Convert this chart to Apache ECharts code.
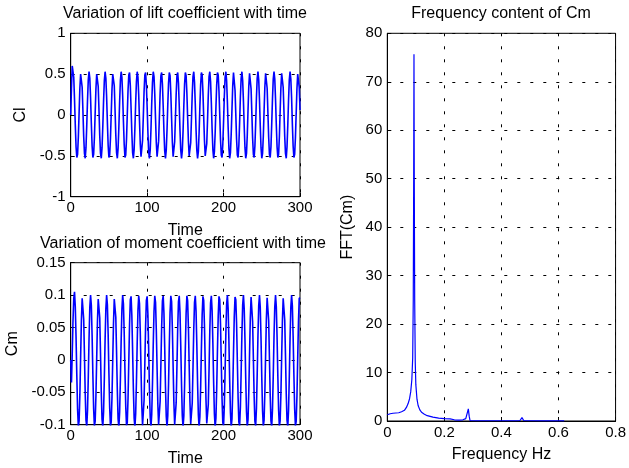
<!DOCTYPE html>
<html>
<head>
<meta charset="utf-8">
<title>Cl, Cm and FFT(Cm)</title>
<script src="https://cdn.jsdelivr.net/npm/echarts@6/dist/echarts.min.js"></script>
<style>
  html, body { margin: 0; padding: 0; background: #fff; }
  #chart { width: 629px; height: 468px; }
</style>
</head>
<body>
<div id="chart"></div>
<script>
// Sampling step of the time histories (time units)
const SAMPLE_STEP = 1;

// Lift coefficient history, one value per time step, t = 0 .. 300
const clValues = [
  0.00, 0.33, 0.60, 0.62, 0.46, 0.19, -0.12, -0.39, -0.52, -0.48,
  -0.27, 0.03, 0.33, 0.50, 0.51, 0.34, 0.05, -0.26, -0.47, -0.53,
  -0.40, -0.13, 0.18, 0.43, 0.53, 0.45, 0.21, -0.10, -0.38, -0.52,
  -0.48, -0.28, 0.02, 0.32, 0.50, 0.51, 0.35, 0.06, -0.25, -0.47,
  -0.53, -0.40, -0.14, 0.17, 0.42, 0.53, 0.45, 0.22, -0.09, -0.37,
  -0.52, -0.49, -0.29, 0.01, 0.31, 0.50, 0.52, 0.36, 0.07, -0.24,
  -0.46, -0.53, -0.41, -0.15, 0.16, 0.42, 0.53, 0.46, 0.23, -0.08,
  -0.36, -0.52, -0.49, -0.30, 0.00, 0.30, 0.49, 0.52, 0.36, 0.08,
  -0.22, -0.46, -0.53, -0.42, -0.16, 0.15, 0.41, 0.53, 0.46, 0.24,
  -0.07, -0.35, -0.51, -0.50, -0.31, -0.02, 0.29, 0.49, 0.52, 0.37,
  0.10, -0.21, -0.45, -0.53, -0.43, -0.18, 0.14, 0.40, 0.53, 0.47,
  0.25, -0.05, -0.34, -0.51, -0.50, -0.32, -0.03, 0.27, 0.48, 0.52,
  0.38, 0.11, -0.20, -0.44, -0.53, -0.43, -0.19, 0.12, 0.39, 0.52,
  0.48, 0.26, -0.04, -0.33, -0.51, -0.51, -0.33, -0.04, 0.26, 0.48,
  0.52, 0.39, 0.12, -0.19, -0.43, -0.53, -0.44, -0.20, 0.11, 0.38,
  0.52, 0.48, 0.27, -0.03, -0.32, -0.50, -0.51, -0.34, -0.05, 0.25,
  0.47, 0.53, 0.40, 0.13, -0.18, -0.43, -0.53, -0.45, -0.21, 0.10,
  0.37, 0.52, 0.49, 0.28, -0.02, -0.31, -0.50, -0.51, -0.35, -0.07,
  0.24, 0.47, 0.53, 0.41, 0.15, -0.17, -0.42, -0.53, -0.45, -0.22,
  0.09, 0.37, 0.52, 0.49, 0.29, 0.00, -0.30, -0.49, -0.52, -0.36,
  -0.08, 0.23, 0.46, 0.53, 0.42, 0.16, -0.15, -0.41, -0.53, -0.46,
  -0.23, 0.07, 0.36, 0.52, 0.50, 0.30, 0.01, -0.29, -0.49, -0.52,
  -0.37, -0.09, 0.22, 0.45, 0.53, 0.42, 0.17, -0.14, -0.40, -0.53,
  -0.47, -0.25, 0.06, 0.35, 0.51, 0.50, 0.32, 0.02, -0.28, -0.48,
  -0.52, -0.38, -0.10, 0.21, 0.45, 0.53, 0.43, 0.18, -0.13, -0.40,
  -0.53, -0.47, -0.26, 0.05, 0.34, 0.51, 0.50, 0.33, 0.03, -0.27,
  -0.48, -0.52, -0.39, -0.11, 0.20, 0.44, 0.53, 0.44, 0.19, -0.12,
  -0.39, -0.52, -0.48, -0.27, 0.04, 0.33, 0.51, 0.51, 0.34, 0.05,
  -0.26, -0.47, -0.53, -0.39, -0.13, 0.18, 0.43, 0.53, 0.44, 0.21,
  -0.11, -0.38, -0.52, -0.48, -0.28, 0.02, 0.32, 0.50, 0.51, 0.34,
  0.06
];

// Moment coefficient history, one value per time step, t = 0 .. 300
const cmValues = [
  0.000, -0.035, 0.010, 0.060, 0.095, 0.105, 0.082, 0.035, -0.024, -0.076,
  -0.103, -0.094, -0.054, 0.005, 0.061, 0.095, 0.096, 0.063, 0.007, -0.052,
  -0.093, -0.103, -0.078, -0.027, 0.033, 0.081, 0.100, 0.084, 0.038, -0.022,
  -0.075, -0.102, -0.095, -0.056, 0.002, 0.059, 0.094, 0.097, 0.065, 0.010,
  -0.049, -0.092, -0.103, -0.080, -0.029, 0.031, 0.079, 0.100, 0.085, 0.040,
  -0.020, -0.073, -0.102, -0.096, -0.058, 0.000, 0.057, 0.094, 0.097, 0.066,
  0.012, -0.047, -0.091, -0.104, -0.081, -0.031, 0.029, 0.078, 0.100, 0.086,
  0.042, -0.017, -0.071, -0.101, -0.097, -0.060, -0.003, 0.055, 0.093, 0.098,
  0.068, 0.014, -0.045, -0.090, -0.104, -0.083, -0.034, 0.026, 0.077, 0.099,
  0.087, 0.044, -0.015, -0.070, -0.101, -0.098, -0.062, -0.005, 0.053, 0.092,
  0.098, 0.070, 0.017, -0.043, -0.088, -0.104, -0.084, -0.036, 0.024, 0.075,
  0.099, 0.089, 0.046, -0.012, -0.068, -0.100, -0.099, -0.064, -0.007, 0.051,
  0.091, 0.099, 0.072, 0.019, -0.041, -0.087, -0.104, -0.086, -0.038, 0.022,
  0.073, 0.099, 0.090, 0.049, -0.010, -0.066, -0.100, -0.099, -0.066, -0.010,
  0.049, 0.090, 0.099, 0.073, 0.021, -0.038, -0.086, -0.104, -0.087, -0.040,
  0.019, 0.072, 0.099, 0.091, 0.051, -0.008, -0.064, -0.099, -0.100, -0.067,
  -0.012, 0.047, 0.089, 0.099, 0.075, 0.024, -0.036, -0.084, -0.104, -0.088,
  -0.043, 0.017, 0.070, 0.098, 0.092, 0.053, -0.005, -0.062, -0.098, -0.101,
  -0.069, -0.015, 0.045, 0.088, 0.099, 0.076, 0.026, -0.034, -0.083, -0.104,
  -0.090, -0.045, 0.015, 0.068, 0.098, 0.093, 0.055, -0.003, -0.060, -0.097,
  -0.101, -0.071, -0.017, 0.042, 0.086, 0.100, 0.078, 0.028, -0.032, -0.081,
  -0.104, -0.091, -0.047, 0.012, 0.067, 0.097, 0.093, 0.057, 0.000, -0.058,
  -0.096, -0.102, -0.073, -0.019, 0.040, 0.085, 0.100, 0.079, 0.031, -0.029,
  -0.080, -0.103, -0.092, -0.049, 0.010, 0.065, 0.097, 0.094, 0.059, 0.002,
  -0.056, -0.095, -0.102, -0.075, -0.022, 0.038, 0.084, 0.100, 0.081, 0.033,
  -0.027, -0.078, -0.103, -0.093, -0.051, 0.007, 0.063, 0.096, 0.095, 0.061,
  0.004, -0.054, -0.094, -0.103, -0.076, -0.024, 0.036, 0.082, 0.100, 0.082,
  0.035, -0.025, -0.077, -0.103, -0.094, -0.054, 0.005, 0.061, 0.095, 0.096,
  0.062, 0.007, -0.052, -0.093, -0.103, -0.078, -0.026, 0.034, 0.081, 0.100,
  0.083, 0.037, -0.022, -0.075, -0.102, -0.095, -0.056, 0.003, 0.059, 0.095,
  0.096
];

// Spectrum of Cm: frequency (Hz) and magnitude
const fftFreq = [
  0, 0.01, 0.02, 0.03, 0.04, 0.05, 0.06, 0.067, 0.073, 0.078,
  0.082, 0.086, 0.089, 0.091, 0.0925, 0.0935, 0.0945, 0.096, 0.098, 0.1,
  0.104, 0.108, 0.114, 0.12, 0.13, 0.14, 0.16, 0.18, 0.2, 0.22,
  0.235, 0.25, 0.265, 0.275, 0.28, 0.284, 0.287, 0.29, 0.31, 0.35,
  0.4, 0.45, 0.465, 0.472, 0.478, 0.5, 0.55, 0.6, 0.62
];
const fftAmp = [
  1.3, 1.5, 1.6, 1.65, 1.7, 1.9, 2.2, 2.8, 3.6, 4.6,
  6.0, 8.5, 13, 25, 50, 75.7, 50, 25, 12, 7.5,
  4.5, 3.2, 2.3, 1.8, 1.4, 1.1, 0.8, 0.6, 0.5, 0.45,
  0.25, 0.2, 0.25, 0.5, 0.6, 2.5, 1.0, 0.1, 0.05, 0.05,
  0.05, 0.05, 0.1, 0.7, 0.1, 0.05, 0.03, 0.03, 0.03
];

const FONT = "'Liberation Sans', Arial, Helvetica, sans-serif";
const BLUE = '#0000ff';

function pairs(xs, ys) {
  return ys.map((y, i) => [xs[i], y]);
}
const clTime = clValues.map((_, i) => i * SAMPLE_STEP);
const cmTime = cmValues.map((_, i) => i * SAMPLE_STEP);

function axis(gridIndex, min, max, interval, name, nameGap, isY) {
  return {
    type: 'value',
    gridIndex: gridIndex,
    min: min,
    max: max,
    interval: interval,
    name: name,
    nameLocation: 'middle',
    nameGap: nameGap,
    nameRotate: isY ? 90 : 0,
    nameTextStyle: { fontFamily: FONT, fontSize: 16, color: '#000' },
    axisLine: { show: true, onZero: false, lineStyle: { color: '#000', width: 1 } },
    axisTick: { show: true, inside: true, length: 4, lineStyle: { color: '#000' } },
    axisLabel: {
      show: true, fontFamily: FONT, fontSize: 15, color: '#000',
      margin: isY ? 5 : 4, showMinLabel: true, showMaxLabel: true
    },
    splitLine: { show: true, lineStyle: { color: '#000', width: 1, type: [3, 10] } }
  };
}

const chart = echarts.init(document.getElementById('chart'), null, { renderer: 'canvas' });

chart.setOption({
  animation: false,
  backgroundColor: '#fff',
  textStyle: { fontFamily: FONT, color: '#000' },
  title: [
    { text: 'Variation of lift coefficient with time', left: 185, top: 6, textAlign: 'center', padding: 0,
      textStyle: { fontFamily: FONT, fontSize: 16, fontWeight: 'normal', color: '#000' } },
    { text: 'Variation of moment coefficient with time', left: 183, top: 236, textAlign: 'center', padding: 0,
      textStyle: { fontFamily: FONT, fontSize: 16, fontWeight: 'normal', color: '#000' } },
    { text: 'Frequency content of Cm', left: 501, top: 6, textAlign: 'center', padding: 0,
      textStyle: { fontFamily: FONT, fontSize: 16, fontWeight: 'normal', color: '#000' } }
  ],
  grid: [
    { left: 70.7, top: 33.3, width: 229.3, height: 163.4, show: true, borderColor: '#000', borderWidth: 1, backgroundColor: 'transparent' },
    { left: 70.7, top: 262.7, width: 229.3, height: 162, show: true, borderColor: '#000', borderWidth: 1, backgroundColor: 'transparent' },
    { left: 387.3, top: 33.3, width: 229.4, height: 391.7, show: true, borderColor: '#000', borderWidth: 1, backgroundColor: 'transparent' }
  ],
  xAxis: [
    axis(0, 0, 300, 100, 'Time', 26, false),
    axis(1, 0, 300, 100, 'Time', 26, false),
    axis(2, 0, 0.8, 0.2, 'Frequency Hz', 26, false)
  ],
  yAxis: [
    axis(0, -1, 1, 0.5, 'Cl', 42, true),
    axis(1, -0.1, 0.15, 0.05, 'Cm', 50, true),
    axis(2, 0, 80, 10, 'FFT(Cm)', 32, true)
  ],
  series: [
    { type: 'line', xAxisIndex: 0, yAxisIndex: 0, data: pairs(clTime, clValues),
      showSymbol: false, clip: true, silent: true, lineStyle: { color: BLUE, width: 1.6 } },
    { type: 'line', xAxisIndex: 1, yAxisIndex: 1, data: pairs(cmTime, cmValues),
      showSymbol: false, clip: true, silent: true, lineStyle: { color: BLUE, width: 1.6 } },
    { type: 'line', xAxisIndex: 2, yAxisIndex: 2, data: pairs(fftFreq, fftAmp),
      showSymbol: false, clip: true, silent: true, lineStyle: { color: BLUE, width: 1.2 } }
  ]
});
</script>
</body>
</html>
